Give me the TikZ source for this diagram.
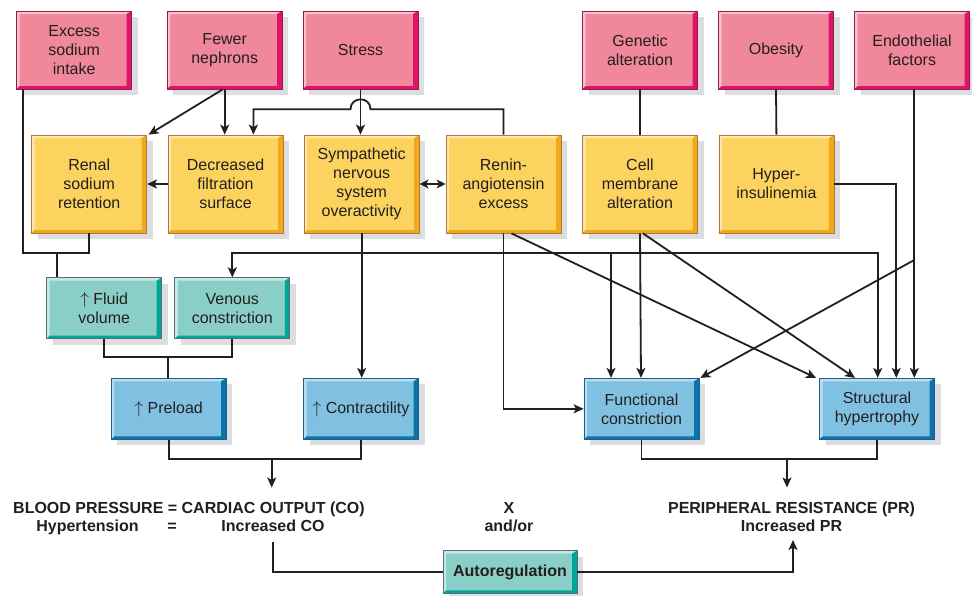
\documentclass[tikz,border=0pt]{standalone}
\usepackage{fontspec}
\setmainfont{Liberation Sans}
\usetikzlibrary{arrows.meta,shadows}

% box palettes: fill, bevel light, bevel dark, border
\definecolor{pkfl}{HTML}{F0879A}
\definecolor{pklt}{HTML}{F9C0CA}
\definecolor{pkdk}{HTML}{E0136A}
\definecolor{pkbd}{HTML}{8E1F4A}
\definecolor{ylfl}{HTML}{FDD35F}
\definecolor{yllt}{HTML}{FEE7AE}
\definecolor{yldk}{HTML}{EFA91B}
\definecolor{ylbd}{HTML}{B0773C}
\definecolor{tlfl}{HTML}{8ACFC7}
\definecolor{tllt}{HTML}{C4E8E2}
\definecolor{tldk}{HTML}{00A695}
\definecolor{tlbd}{HTML}{5D6A7E}
\definecolor{blfl}{HTML}{80C1E1}
\definecolor{bllt}{HTML}{B8DEF2}
\definecolor{bldk}{HTML}{0A74AC}
\definecolor{blbd}{HTML}{1C5D8E}
\definecolor{shade}{HTML}{DCDDDF}
\definecolor{ink}{HTML}{231F20}

\newcommand\boxfont{\fontsize{16}{19}\selectfont}
\newcommand\eqfont{\fontsize{16}{19}\selectfont\bfseries}

\begin{document}
\begin{tikzpicture}[x=1pt,y=-1pt,
  conn/.style={draw=ink, line width=1.8pt},
  arr/.style={conn, -{Stealth[length=10pt,width=9pt,inset=2.5pt]}},
  dbl/.style={conn, {Stealth[length=9pt,width=9pt,inset=2.5pt]}-{Stealth[length=9pt,width=9pt,inset=2.5pt]}},
  lbl/.style={text=ink, font=\eqfont, inner sep=0pt, anchor=base},
  box/.style={
    draw=#1bd, fill=#1fl, line width=0.8pt, text=ink, align=center,
    font=\boxfont, inner sep=2pt, minimum width=115pt,
    drop shadow={shadow xshift=6pt, shadow yshift=-6pt, fill=shade, opacity=1},
    path picture={
      \coordinate (bbsw) at (path picture bounding box.south west);
      \coordinate (bbne) at (path picture bounding box.north east);
      \coordinate (bbnw) at (bbsw |- bbne);
      \coordinate (bbse) at (bbne |- bbsw);
      \fill[#1lt] (bbsw) -- (bbnw) -- (bbne) -- ([xshift=-5pt,yshift=-3pt]bbne)
        -- ([xshift=3pt,yshift=-3pt]bbnw) -- ([xshift=3pt,yshift=3pt]bbsw) -- cycle;
      \fill[#1dk] (bbsw) -- (bbse) -- (bbne) -- ([xshift=-5pt,yshift=-3pt]bbne)
        -- ([xshift=-5pt,yshift=3pt]bbse) -- ([xshift=3pt,yshift=3pt]bbsw) -- cycle;
    }},
  cause/.style={box=pk, minimum height=78pt},
  mech/.style={box=yl, minimum height=98pt},
  vol/.style={box=tl, minimum height=61pt},
  eff/.style={box=bl, minimum height=61pt}]

\fill[white] (0,0) rectangle (972,595);
\useasboundingbox (0,0) rectangle (972,595);

% primary causes
\node[cause] (exc) at (74.2,50)  {Excess\\sodium\\intake};
\node[cause] (few) at (224.7,50) {Fewer\\nephrons};
\node[cause] (str) at (360.5,50) {Stress};
\node[cause] (gen) at (640,50)   {Genetic\\alteration};
\node[cause] (obe) at (776,50)   {Obesity};
\node[cause] (end) at (912,50)   {Endothelial\\factors};

% mechanisms
\node[mech] (ren) at (89.2,184)  {Renal\\sodium\\retention};
\node[mech] (dec) at (225.5,184) {Decreased\\filtration\\surface};
\node[mech] (sym) at (361.7,184) {Sympathetic\\nervous\\system\\overactivity};
\node[mech] (rin) at (503.5,184) {Renin-\\angiotensin\\excess};
\node[mech] (cel) at (640,184)   {Cell\\membrane\\alteration};
\node[mech] (hyp) at (776.4,184) {Hyper-\\insulinemia};

% volume / tone
\node[vol] (flu) at (104.2,308.2) {$\uparrow$ Fluid\\volume};
\node[vol] (ven) at (232.3,308.2) {Venous\\constriction};

% haemodynamic effects
\node[eff] (pre)  at (168.7,408.8) {$\uparrow$ Preload};
\node[eff] (con)  at (361,408.8)   {$\uparrow$ Contractility};
\node[eff] (fun)  at (641.5,408.8) {Functional\\constriction};
\node[eff] (stru) at (877,408.8)   {Structural\\hypertrophy};

\node[box=tl, minimum width=134pt, minimum height=42.6pt, font=\eqfont] (aut) at (510,572) {Autoregulation};

% equations
\node[lbl, anchor=base west] (bp) at (13,513) {BLOOD PRESSURE = CARDIAC OUTPUT (CO)};
\node[lbl] (htn) at (87.5,531.7) {Hypertension};
\node[lbl] (eq)  at (172,531.7) {=};
\node[lbl] (ico) at (273,531.7) {Increased CO};
\node[lbl] (xx)  at (509,513) {X};
\node[lbl] (ao)  at (509,531.7) {and/or};
\node[lbl] (pr)  at (791.5,513) {PERIPHERAL RESISTANCE (PR)};
\node[lbl] (ipr) at (791.5,531.7) {Increased PR};

% junctions and free ends
\coordinate (jA)  at (57.3,252.7);
\coordinate (lvB) at (0,252.7);
\coordinate (fb)  at (611,252.7);
\coordinate (hopR) at (370.5,109.3);
\coordinate (hopL) at (350.5,109.3);
\coordinate (pj)  at (167.7,357);
\coordinate (cj)  at (271.7,458.7);
\coordinate (cjt) at (271.7,487.5);
\coordinate (rj)  at (787,458.7);
\coordinate (rjt) at (787,487.5);
\coordinate (ed)  at (914.3,260);
\coordinate (aL)  at (273.3,541.7);
\coordinate (aR)  at (793,540);

% sodium and nephron pathways
\draw[conn] ([xshift=6.8pt]exc.south west) |- (jA) -| (ren.south);
\draw[conn] (jA) -- (jA |- flu.north);
\draw[arr] (few.south) -- (few.south |- dec.north);
\draw[arr] ([xshift=-2pt]few.south) -- ([xshift=1.5pt]ren.north east);
\draw[arr] (dec.west) -- (ren.east);

% stress and renin-angiotensin
\draw[arr] (str.south) -- (str.south |- sym.north);
\draw[arr] (rin.north) |- (hopR) .. controls +(0,-13.3) and +(0,-13.3) .. (hopL)
  -| ([xshift=-30pt]dec.north east);
\draw[dbl] (sym.east) -- (rin.west);

% genetic, obesity, endothelial
\draw[conn] (gen.south) -- (cel.north);
\draw[conn] (obe.south) -- (hyp.north);
\draw[arr] (hyp.east) -| ([xshift=19.3pt]stru.north);
\draw[arr] ([xshift=2.3pt]end.south) -- ([xshift=37.3pt]stru.north);
\draw[arr] (ed) -- ([xshift=1pt]fun.north east);

% sympathetic outflow
\draw[arr] (sym.south) -- (sym.south |- con.north);
\draw[arr] (sym.south |- lvB) -| (ven.north);
\draw[arr] (sym.south |- lvB) -| ([xshift=0.7pt]stru.north);
\draw[arr] (fb) -- (fb |- fun.north);

% renin-angiotensin and cell membrane to the vessels
\draw[arr] (rin.south) |- (fun.west);
\draw[arr] ([xshift=8pt]rin.south) -- ([xshift=-3pt]stru.north west);
\draw[arr] (cel.south) -- ([xshift=-0.5pt]fun.north);
\draw[arr] ([xshift=3pt]cel.south) -- ([xshift=-22pt]stru.north);

% cardiac output side
\draw[conn] (flu.south) |- (pj) -| (ven.south);
\draw[conn] (pj) -- (pj |- pre.north);
\draw[conn] (pre.south) |- (cj) -| (con.south);
\draw[arr] (cj) -- (cjt);

% peripheral resistance side
\draw[conn] (fun.south) |- (rj) -| (stru.south);
\draw[arr] (rj) -- (rjt);

% autoregulation loop
\draw[conn] (aL) |- (aut.west);
\draw[arr] (aut.east) -| (aR);

\end{tikzpicture}
\end{document}
